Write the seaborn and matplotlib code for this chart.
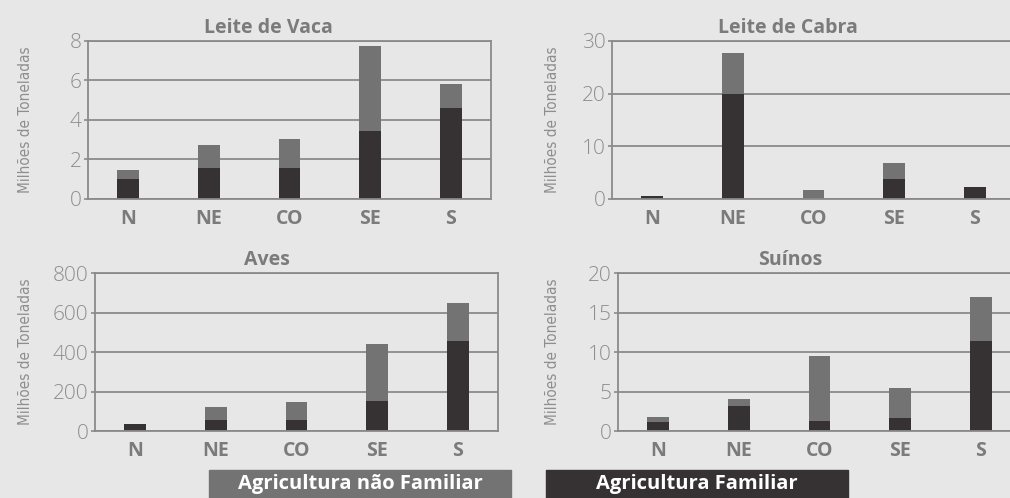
import matplotlib
matplotlib.use('Agg')
import matplotlib.pyplot as plt
import seaborn as sns
import pandas as pd
from matplotlib.patches import Rectangle

# ========== dados ==========
REGIOES = ['N', 'NE', 'CO', 'SE', 'S']

VACA_TOTAL = [1.47, 2.73, 3.04, 7.75, 5.82]
VACA_FAMILIAR = [1.01, 1.57, 1.57, 3.44, 4.61]

CABRA_TOTAL = [0.55, 27.7, 1.7, 6.8, 2.3]
CABRA_FAMILIAR = [0.55, 19.9, 0.0, 3.8, 2.3]

AVES_TOTAL = [34, 120, 145, 440, 648]
AVES_FAMILIAR = [34, 54, 54, 150, 455]

SUINOS_TOTAL = [1.73, 4.0, 9.47, 5.41, 16.96]
SUINOS_FAMILIAR = [1.1, 3.13, 1.23, 1.6, 11.37]

TITULOS = ['Leite de Vaca', 'Leite de Cabra', 'Aves', 'Suínos']
YTICKS = [[0, 2, 4, 6, 8], [0, 10, 20, 30], [0, 200, 400, 600, 800], [0, 5, 10, 15, 20]]
LEGENDA = ['Agricultura não Familiar', 'Agricultura Familiar']

# ========== estilo ==========
BG = '#e6e7e6'
COR_NAO_FAM = '#737373'
COR_FAM = '#363234'
COR_TEXTO = '#7b7b7b'
COR_TICK = '#8e8e8e'
COR_LINHA = '#8a8a8a'

sns.set_style('white')
plt.rcParams['font.family'] = ['Open Sans', 'DejaVu Sans']

# posição dos eixos [esq, base, larg, alt], x do título, x do rótulo y
LAYOUT = [
    ([88 / 1010, 1 - 199 / 498, 403 / 1010, 158 / 498], 0.447, -0.136),
    ([612 / 1010, 1 - 199 / 498, 403 / 1010, 158 / 498], 0.437, -0.129),
    ([95 / 1010, 1 - 431 / 498, 403 / 1010, 158 / 498], 0.427, -0.154),
    ([618 / 1010, 1 - 431 / 498, 403 / 1010, 158 / 498], 0.427, -0.144),
]


def desenhar_painel(ax, titulo, total, familiar, yticks, xtitulo, xrotulo):
    """barras empilhadas: total (cinza) com a parte familiar (escura) por cima"""
    df = pd.DataFrame({'regiao': REGIOES, 'total': total, 'familiar': familiar})
    sns.barplot(data=df, x='regiao', y='total', order=REGIOES, color=COR_NAO_FAM,
                width=0.27, saturation=1, linewidth=0, ax=ax)
    sns.barplot(data=df, x='regiao', y='familiar', order=REGIOES, color=COR_FAM,
                width=0.27, saturation=1, linewidth=0, ax=ax)

    ax.set_facecolor(BG)
    ax.set_xlim(-0.5, 4.5)
    ax.set_ylim(0, yticks[-1])
    ax.set_yticks(yticks)
    ax.yaxis.grid(True, color=COR_LINHA, linewidth=1.3)
    ax.set_axisbelow(True)
    for s in ax.spines.values():
        s.set_color(COR_LINHA)
        s.set_linewidth(1.3)

    ax.tick_params(axis='x', length=0, pad=7, labelsize=14, labelcolor=COR_TEXTO)
    for lbl in ax.get_xticklabels():
        lbl.set_fontweight('bold')
    ax.tick_params(axis='y', left=True, length=3, width=1.2, color=COR_LINHA, pad=1.5,
                   labelsize=15, labelcolor=COR_TICK)
    for lbl in ax.get_yticklabels():
        lbl.set_fontweight('light')

    ax.set_xlabel('')
    ax.set_ylabel('Milhões de Toneladas', fontsize=11, color=COR_TICK,
                  family=['DejaVu Sans'], fontstretch='condensed', fontweight='light')
    ax.yaxis.set_label_coords(xrotulo, 0.5)
    ax.set_title(titulo, x=xtitulo, pad=6, fontsize=14, fontweight='bold', color=COR_TEXTO)


def main():
    fig = plt.figure(figsize=(10.1, 4.98), dpi=100)
    fig.patch.set_facecolor(BG)

    dados = [(VACA_TOTAL, VACA_FAMILIAR), (CABRA_TOTAL, CABRA_FAMILIAR),
             (AVES_TOTAL, AVES_FAMILIAR), (SUINOS_TOTAL, SUINOS_FAMILIAR)]
    for i, (total, familiar) in enumerate(dados):
        pos, xtit, xrot = LAYOUT[i]
        ax = fig.add_axes(pos)
        desenhar_painel(ax, TITULOS[i], total, familiar, YTICKS[i], xtit, xrot)

    # legenda em caixas no rodapé
    caixas = [(209, COR_NAO_FAM), (546, COR_FAM)]
    for (x0, cor), texto in zip(caixas, LEGENDA):
        fig.patches.append(Rectangle((x0 / 1010, 0), 302 / 1010, 28 / 498,
                                     transform=fig.transFigure, color=cor, zorder=0))
        fig.text((x0 + 151) / 1010, 14 / 498, texto, ha='center', va='center',
                 color='white', fontsize=14.5, fontweight='bold')

    fig.savefig('out.png', dpi=100, facecolor=BG)
    plt.close(fig)


if __name__ == '__main__':
    main()
